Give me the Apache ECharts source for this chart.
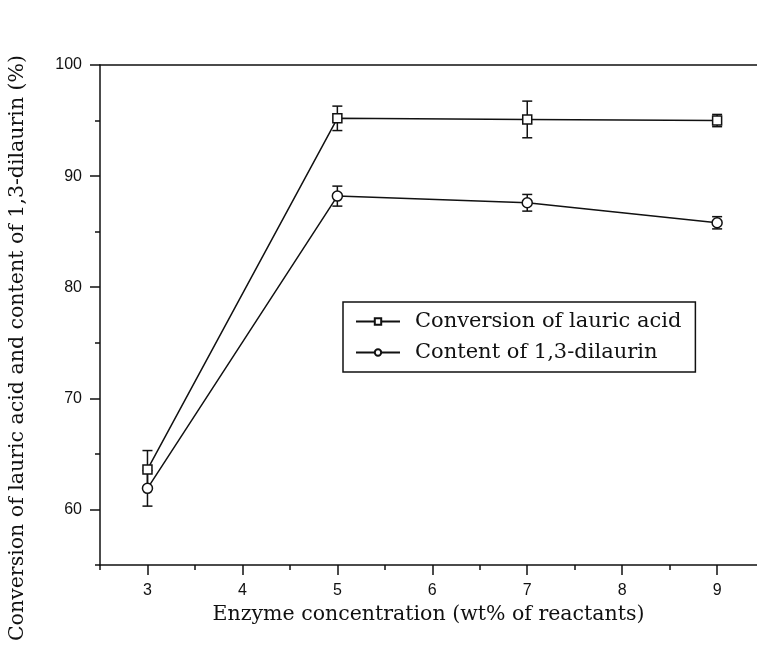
<!DOCTYPE html>
<html><head><meta charset="utf-8">
<script src="https://cdn.jsdelivr.net/npm/echarts@6/dist/echarts.min.js"></script>
<style>html,body{margin:0;padding:0;background:#fff}#c{width:757px;height:647px}</style>
</head><body><div id="c"></div>
<script>
const enzyme = [3, 5, 7, 9];
const conversion = [63.6, 95.2, 95.1, 95.0];
const conversionErr = [1.7, 1.1, 1.65, 0.55];
const dilaurin = [61.9, 88.2, 87.6, 85.8];
const dilaurinErr = [1.6, 0.9, 0.75, 0.55];
const xMajor = [3, 4, 5, 6, 7, 8, 9];
const xMinor = [2.5, 3.5, 4.5, 5.5, 6.5, 7.5, 8.5];
const yMajor = [60, 70, 80, 90, 100];
const yMinor = [55, 65, 75, 85, 95];
const seriesNames = ['Conversion of lauric acid', 'Content of 1,3-dilaurin'];
const xTitle = 'Enzyme concentration (wt% of reactants)';
const yTitle = 'Conversion of lauric acid and content of 1,3-dilaurin (%)';

const chart = echarts.init(document.getElementById('c'));
const BLACK = '#111';
const sansFont = '"Liberation Sans", Arial, sans-serif';
const serifFont = '"DejaVu Serif", "Liberation Serif", serif';

function errData(vals, errs) {
  return enzyme.map((x, i) => [x, vals[i], errs[i]]);
}
function errRender(params, api) {
  const x = api.value(0), y = api.value(1), e = api.value(2);
  const hi = api.coord([x, y + e]);
  const lo = api.coord([x, y - e]);
  const w = 5;
  const st = { stroke: BLACK, lineWidth: 1.5 };
  return {
    type: 'group',
    children: [
      { type: 'line', shape: { x1: hi[0], y1: hi[1], x2: lo[0], y2: lo[1] }, style: st },
      { type: 'line', shape: { x1: hi[0] - w, y1: hi[1], x2: hi[0] + w, y2: hi[1] }, style: st },
      { type: 'line', shape: { x1: lo[0] - w, y1: lo[1], x2: lo[0] + w, y2: lo[1] }, style: st }
    ]
  };
}

const xBase = { type: 'value', min: 2.5, max: 9.42, gridIndex: 0, splitLine: { show: false } };
const yBase = { type: 'value', min: 55, max: 100, gridIndex: 0, splitLine: { show: false } };

const option = {
  backgroundColor: '#fff',
  animation: false,
  grid: { left: 100, top: 65, right: 0, height: 500 },
  legend: {
    orient: 'vertical',
    left: 343, top: 302,
    padding: [9, 14, 9, 12],
    itemGap: 10,
    itemWidth: 44, itemHeight: 8,
    borderColor: BLACK, borderWidth: 1.5,
    textStyle: { fontFamily: serifFont, fontSize: 21, color: BLACK, padding: [0, 0, 0, 10] },
    data: seriesNames
  },
  graphic: [{
    type: 'text',
    x: 18, y: 348,
    rotation: Math.PI / 2,
    style: {
      text: yTitle, fill: BLACK,
      font: '20.5px ' + serifFont,
      align: 'center', verticalAlign: 'middle'
    }
  }],
  xAxis: [
    Object.assign({}, xBase, {
      position: 'bottom',
      axisLine: { show: true, lineStyle: { color: BLACK, width: 1.5 } },
      axisTick: { show: true, customValues: xMinor, length: 5, lineStyle: { color: BLACK, width: 1.5 } },
      axisLabel: { customValues: xMajor, margin: 18, fontFamily: sansFont, fontSize: 16, color: BLACK },
      name: xTitle, nameLocation: 'middle', nameGap: 32,
      nameTextStyle: { fontFamily: serifFont, fontSize: 20.5, color: BLACK }
    }),
    Object.assign({}, xBase, {
      position: 'bottom',
      axisLine: { show: false },
      axisTick: { show: true, customValues: xMajor, length: 10, lineStyle: { color: BLACK, width: 1.5 } },
      axisLabel: { show: false }
    }),
    Object.assign({}, xBase, {
      position: 'top',
      axisLine: { show: true, lineStyle: { color: BLACK, width: 1.5 } },
      axisTick: { show: false },
      axisLabel: { show: false }
    })
  ],
  yAxis: [
    Object.assign({}, yBase, {
      position: 'left',
      axisLine: { show: true, lineStyle: { color: BLACK, width: 1.5 } },
      axisTick: { show: true, customValues: yMinor, length: 5, lineStyle: { color: BLACK, width: 1.5 } },
      axisLabel: { customValues: yMajor, margin: 18, fontFamily: sansFont, fontSize: 16, color: BLACK }
    }),
    Object.assign({}, yBase, {
      position: 'left',
      axisLine: { show: false },
      axisTick: { show: true, customValues: yMajor, length: 10, lineStyle: { color: BLACK, width: 1.5 } },
      axisLabel: { show: false }
    })
  ],
  series: [
    {
      type: 'custom', name: 'errConv', xAxisIndex: 0, yAxisIndex: 0,
      renderItem: errRender, data: errData(conversion, conversionErr), z: 2, silent: true
    },
    {
      type: 'custom', name: 'errDil', xAxisIndex: 0, yAxisIndex: 0,
      renderItem: errRender, data: errData(dilaurin, dilaurinErr), z: 2, silent: true
    },
    {
      type: 'line', name: seriesNames[0], xAxisIndex: 0, yAxisIndex: 0,
      data: enzyme.map((x, i) => [x, conversion[i]]),
      symbol: 'rect', symbolSize: 9, showAllSymbol: true,
      lineStyle: { color: BLACK, width: 1.5 },
      itemStyle: { color: '#fff', borderColor: BLACK, borderWidth: 1.5 },
      z: 5
    },
    {
      type: 'line', name: seriesNames[1], xAxisIndex: 0, yAxisIndex: 0,
      data: enzyme.map((x, i) => [x, dilaurin[i]]),
      symbol: 'circle', symbolSize: 10, showAllSymbol: true,
      lineStyle: { color: BLACK, width: 1.5 },
      itemStyle: { color: '#fff', borderColor: BLACK, borderWidth: 1.5 },
      z: 5
    }
  ]
};
chart.setOption(option);
</script>
</body></html>
